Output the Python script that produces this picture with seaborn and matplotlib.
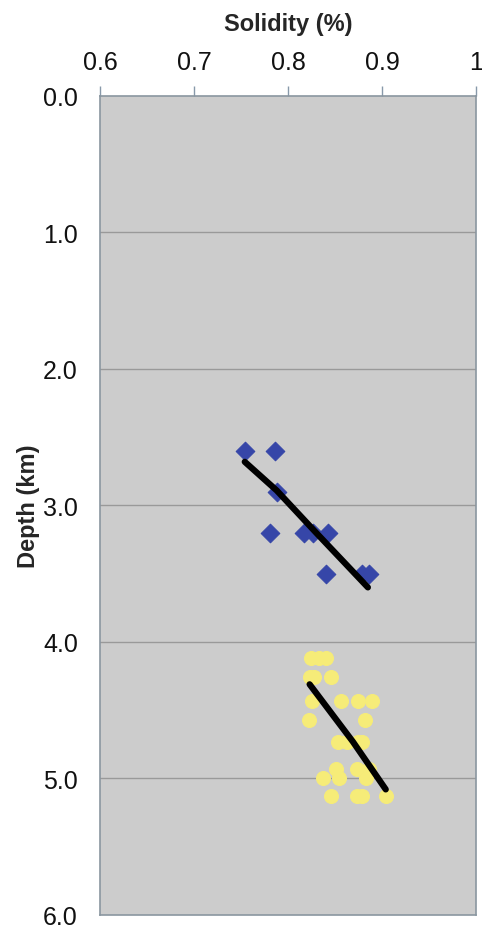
import seaborn as sns
import matplotlib.pyplot as plt
import pandas as pd

# shallow group (blue diamonds)
blue_solidity = [0.754, 0.786, 0.788, 0.781, 0.817, 0.827, 0.843, 0.840, 0.879, 0.886]
blue_depth = [2.6, 2.6, 2.9, 3.2, 3.2, 3.2, 3.2, 3.5, 3.5, 3.5]

# deeper group (yellow dots)
yellow_solidity = [0.825, 0.833, 0.840,
                   0.823, 0.828, 0.846,
                   0.826, 0.856, 0.874, 0.889,
                   0.822, 0.882,
                   0.853, 0.863, 0.874, 0.879,
                   0.851, 0.873, 0.886,
                   0.837, 0.854, 0.883,
                   0.846, 0.873, 0.879, 0.904]
yellow_depth = [4.12, 4.12, 4.12,
                4.26, 4.26, 4.26,
                4.43, 4.43, 4.43, 4.43,
                4.57, 4.57,
                4.73, 4.73, 4.73, 4.73,
                4.93, 4.93, 4.93,
                5.0, 5.0, 5.0,
                5.13, 5.13, 5.13, 5.13]

# trend lines
blue_trend_solidity = [0.754, 0.788, 0.830, 0.885]
blue_trend_depth = [2.68, 2.89, 3.20, 3.60]
yellow_trend_solidity = [0.823, 0.869, 0.904]
yellow_trend_depth = [4.31, 4.73, 5.08]

x_ticks = [0.6, 0.7, 0.8, 0.9, 1.0]
x_tick_labels = ["0.6", "0.7", "0.8", "0.9", "1"]
y_ticks = [0, 1, 2, 3, 4, 5, 6]
y_tick_labels = ["0.0", "1.0", "2.0", "3.0", "4.0", "5.0", "6.0"]

sns.set_style("white")
plt.rcParams['font.family'] = ['Liberation Sans', 'DejaVu Sans']

blue = pd.DataFrame({"solidity": blue_solidity, "depth": blue_depth})
yellow = pd.DataFrame({"solidity": yellow_solidity, "depth": yellow_depth})
blue_trend = pd.DataFrame({"solidity": blue_trend_solidity, "depth": blue_trend_depth})
yellow_trend = pd.DataFrame({"solidity": yellow_trend_solidity, "depth": yellow_trend_depth})

fig = plt.figure(figsize=(4.82, 9.29), dpi=100)
ax = fig.add_axes([0.2075, 0.014, 0.78, 0.8816])
ax.set_facecolor("#cccccc")

for y in y_ticks[1:-1]:
    ax.axhline(y, color="#999999", lw=1.0, zorder=1)

sns.scatterplot(data=blue, x="solidity", y="depth", marker="D", s=90,
                color="#3646a8", edgecolor="#3646a8", ax=ax, zorder=3)
sns.scatterplot(data=yellow, x="solidity", y="depth", marker="o", s=100,
                color="#f6ec78", edgecolor="#f6ec78", ax=ax, zorder=3)
sns.lineplot(data=blue_trend, x="solidity", y="depth", sort=False,
             color="black", lw=4.5, ax=ax, zorder=4)
sns.lineplot(data=yellow_trend, x="solidity", y="depth", sort=False,
             color="black", lw=4.5, ax=ax, zorder=4)

ax.set_xlim(0.6, 1.0)
ax.set_ylim(6, 0)
ax.xaxis.tick_top()
ax.xaxis.set_label_position("top")
ax.set_xticks(x_ticks)
ax.set_xticklabels(x_tick_labels)
ax.set_yticks(y_ticks)
ax.set_yticklabels(y_tick_labels)
ax.tick_params(axis="both", labelsize=18, colors="#111111", length=7,
               width=1, direction="out", pad=9)
ax.tick_params(axis="both", color="#8899aa")
ax.set_xlabel("Solidity (%)", fontsize=17, fontweight="bold", labelpad=14)
ax.set_ylabel("Depth (km)", fontsize=17, fontweight="bold", labelpad=2)
for s in ax.spines.values():
    s.set_color("#8a96a0")
    s.set_linewidth(1.2)

plt.savefig("out.png", dpi=100)
plt.close()
